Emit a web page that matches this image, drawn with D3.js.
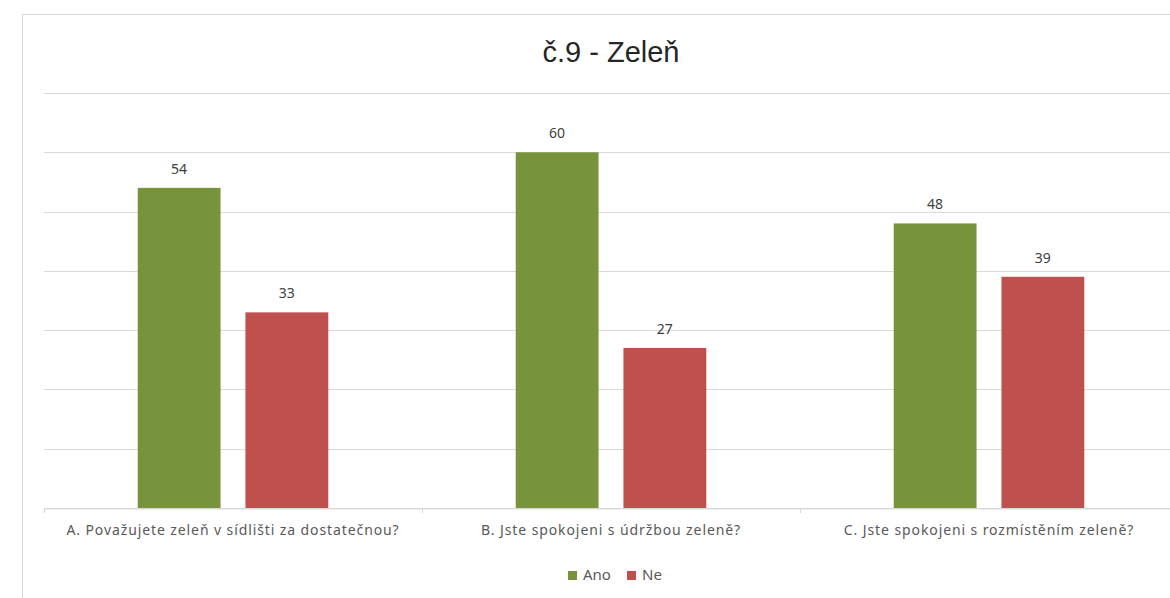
<!DOCTYPE html>
<html>
<head>
<meta charset="utf-8">
<script src="https://cdn.jsdelivr.net/npm/d3@7"></script>
<style>
  body { margin: 0; background: #fff; }
  svg { display: block; font-family: "Noto Sans", "Open Sans", sans-serif; }
</style>
</head>
<body>
<div id="chart"></div>
<script>
// data
var categories = ["A. Považujete zeleň v sídlišti za dostatečnou?", "B. Jste spokojeni s údržbou zeleně?", "C. Jste spokojeni s rozmístěním zeleně?"];
var seriesNames = ["Ano", "Ne"];
var ano = [54, 60, 48];
var ne = [33, 27, 39];
var yTicks = [0, 10, 20, 30, 40, 50, 60, 70];
var colors = ["#77933C", "#C0504D"];

var width = 1170, height = 598;
var margin = {top: 93, right: -8, bottom: 90, left: 44};

var data = categories.map((c, i) => ({name: c, values: [ano[i], ne[i]]}));

var svg = d3.select("#chart").append("svg")
    .attr("width", width)
    .attr("height", height);

// chart area border
svg.append("rect")
    .attr("x", 22.5).attr("y", 14.5)
    .attr("width", 1200).attr("height", 700)
    .attr("fill", "#fff")
    .attr("stroke", "#d9d9d9");

var x = d3.scaleBand()
    .domain(d3.range(categories.length))
    .range([margin.left, width - margin.right]);

var x1 = d3.scaleBand()
    .domain(d3.range(seriesNames.length))
    .range([0, x.bandwidth()])
    .paddingInner(0.231)
    .paddingOuter(0.87);

var y = d3.scaleLinear()
    .domain([0, 70])
    .range([height - margin.bottom, margin.top]);

// gridlines
svg.append("g")
    .selectAll("line")
    .data(yTicks)
    .join("line")
    .attr("x1", margin.left)
    .attr("x2", width)
    .attr("y1", d => Math.round(y(d)) + 0.5)
    .attr("y2", d => Math.round(y(d)) + 0.5)
    .attr("stroke", "#d9d9d9");

// bars
var groups = svg.append("g")
    .selectAll("g")
    .data(data)
    .join("g")
    .attr("transform", (d, i) => `translate(${x(i)},0)`);

groups.selectAll("rect")
    .data(d => d.values)
    .join("rect")
    .attr("x", (d, j) => x1(j))
    .attr("y", d => y(d))
    .attr("width", x1.bandwidth())
    .attr("height", d => y(0) - y(d))
    .attr("fill", (d, j) => colors[j]);

groups.selectAll("text.val")
    .data(d => d.values)
    .join("text")
    .attr("class", "val")
    .attr("x", (d, j) => x1(j) + x1.bandwidth() / 2)
    .attr("y", d => y(d) - 14)
    .attr("text-anchor", "middle")
    .attr("font-size", 14)
    .attr("fill", "#404040")
    .text(d => d);

// x axis
var xAxis = svg.append("g")
    .attr("transform", `translate(0,${Math.round(y(0)) + 0.5})`)
    .call(d3.axisBottom(x).tickFormat(i => categories[i]).tickSize(0).tickPadding(17));
xAxis.select(".domain").attr("stroke", "#d9d9d9");
xAxis.selectAll("text")
    .attr("font-size", 14)
    .attr("letter-spacing", 0.9)
    .attr("fill", "#595959")
    .attr("font-family", "Noto Sans, sans-serif");

// category separator ticks
svg.append("g")
    .selectAll("line")
    .data(d3.range(categories.length + 1))
    .join("line")
    .attr("x1", i => Math.round(margin.left + i * x.step()) + 0.5)
    .attr("x2", i => Math.round(margin.left + i * x.step()) + 0.5)
    .attr("y1", y(0))
    .attr("y2", y(0) + 5)
    .attr("stroke", "#d9d9d9");

// title
svg.append("text")
    .attr("x", 611)
    .attr("y", 62)
    .attr("text-anchor", "middle")
    .attr("font-family", "Liberation Sans, Arial, sans-serif")
    .attr("font-size", 29)
    .attr("fill", "#262626")
    .text("č.9 - Zeleň");

// legend
var legend = svg.append("g").attr("transform", "translate(568,575)");
var lx = [0, 59];
seriesNames.forEach((s, i) => {
  legend.append("rect")
      .attr("x", lx[i]).attr("y", -4)
      .attr("width", 9).attr("height", 9)
      .attr("fill", colors[i]);
  legend.append("text")
      .attr("x", lx[i] + 15).attr("y", 0)
      .attr("dy", "0.35em")
      .attr("font-size", 15)
      .attr("fill", "#595959")
      .text(s);
});
</script>
</body>
</html>
